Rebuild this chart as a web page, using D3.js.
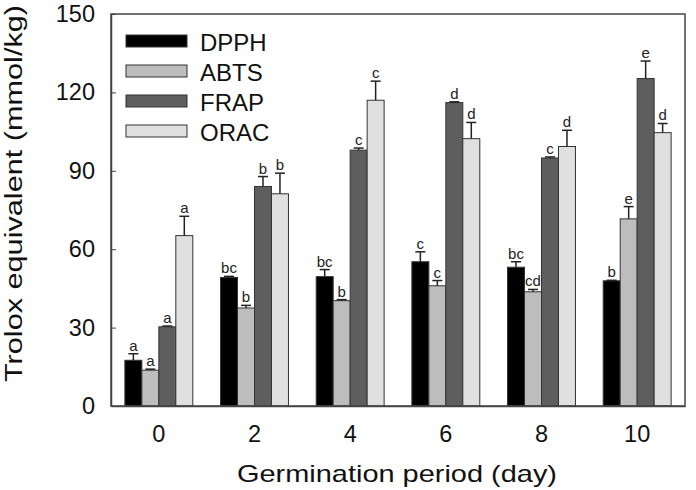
<!DOCTYPE html>
<html>
<head>
<meta charset="utf-8">
<script src="https://cdn.jsdelivr.net/npm/d3@7"></script>
<style>
  body { margin: 0; background: #fff; }
  text { font-family: Arial, "Liberation Sans", sans-serif; }
</style>
</head>
<body>
<svg id="chart" width="696" height="490"></svg>
<script>
// germination days and assays
var days = ['0', '2', '4', '6', '8', '10'];
var assays = ['DPPH', 'ABTS', 'FRAP', 'ORAC'];
var assay_colors = ['#000000', '#bdbdbd', '#5e5e5e', '#e0e0e0'];

// means per assay, one value per day
var dpph = [17.5, 49.2, 49.5, 55.2, 53.1, 47.9];
var abts = [13.7, 37.5, 40.3, 46.0, 43.7, 71.6];
var frap = [30.3, 84.0, 97.9, 116.1, 94.9, 125.3];
var orac = [65.2, 81.2, 117.0, 102.3, 99.3, 104.6];

// error bars (upper half only)
var dpph_err = [2.5, 0.4, 2.7, 3.8, 2.1, 0.2];
var abts_err = [0.4, 1.0, 0.4, 2.0, 0.9, 4.7];
var frap_err = [0.3, 3.8, 0.8, 0.3, 0.4, 6.7];
var orac_err = [7.4, 7.9, 7.3, 6.2, 6.2, 3.5];

// significance letters
var dpph_sig = ['a', 'bc', 'bc', 'c', 'bc', 'b'];
var abts_sig = ['a', 'b', 'b', 'c', 'cd', 'e'];
var frap_sig = ['a', 'b', 'c', 'd', 'c', 'e'];
var orac_sig = ['a', 'b', 'c', 'd', 'd', 'd'];

var y_ticks = [0, 30, 60, 90, 120, 150];

var values = [dpph, abts, frap, orac];
var errors = [dpph_err, abts_err, frap_err, orac_err];
var letters = [dpph_sig, abts_sig, frap_sig, orac_sig];

var margin = {top: 14, right: 11, bottom: 84, left: 111};
var width = 696 - margin.left - margin.right;
var height = 490 - margin.top - margin.bottom;
var font = 'Arial, "Liberation Sans", sans-serif';

var svg = d3.select('#chart');
var g = svg.append('g')
           .attr('transform', 'translate(' + margin.left + ',' + margin.top + ')');

var x = d3.scaleBand().domain(days).range([0, width]).paddingInner(0.29).paddingOuter(0.145);
var x_inner = d3.scaleBand().domain(assays).range([0, x.bandwidth()]);
var y = d3.scaleLinear().domain([0, 150]).range([height, 0]);

var data = [];
days.forEach((d, i) => {
  assays.forEach((a, j) => {
    data.push({day: d, assay: a, idx: j, value: values[j][i], err: errors[j][i], sig: letters[j][i]});
  });
});

var bar_x = d => x(d.day) + x_inner(d.assay);
var cx = d => bar_x(d) + x_inner.bandwidth() / 2;

// bars
g.append('g')
 .selectAll('rect')
 .data(data)
 .enter()
 .append('rect')
 .attr('x', bar_x)
 .attr('y', d => y(d.value))
 .attr('width', x_inner.bandwidth())
 .attr('height', d => height - y(d.value))
 .attr('fill', d => assay_colors[d.idx])
 .attr('stroke', '#333')
 .attr('stroke-width', 1);

// error bars
var err_g = g.append('g').attr('stroke', '#222').attr('stroke-width', 1.5);

err_g.selectAll('line.v')
     .data(data)
     .enter()
     .append('line')
     .attr('class', 'v')
     .attr('x1', cx).attr('x2', cx)
     .attr('y1', d => y(d.value))
     .attr('y2', d => y(d.value + d.err));

err_g.selectAll('line.cap')
     .data(data)
     .enter()
     .append('line')
     .attr('class', 'cap')
     .attr('x1', d => cx(d) - 5).attr('x2', d => cx(d) + 5)
     .attr('y1', d => y(d.value + d.err))
     .attr('y2', d => y(d.value + d.err));

// letters
g.append('g')
 .selectAll('text')
 .data(data)
 .enter()
 .append('text')
 .attr('x', cx)
 .attr('y', d => y(d.value + d.err) - 3)
 .attr('text-anchor', 'middle')
 .attr('font-size', 15)
 .attr('fill', '#222')
 .text(d => d.sig);

// frame
g.append('rect')
 .attr('x', 0).attr('y', 0)
 .attr('width', width).attr('height', height)
 .attr('fill', 'none')
 .attr('stroke', '#444')
 .attr('stroke-width', 1.5);

// y axis
var y_axis = g.append('g')
              .call(d3.axisLeft(y).tickValues(y_ticks).tickSizeInner(-5).tickSizeOuter(0).tickPadding(16));
y_axis.select('.domain').attr('stroke', '#444').attr('stroke-width', 1.5);
y_axis.selectAll('line').attr('stroke', '#444');
y_axis.selectAll('text').attr('font-size', 23.5).attr('fill', '#111').attr('font-family', font);

// x axis
var x_axis = g.append('g')
              .attr('transform', 'translate(0,' + height + ')')
              .call(d3.axisBottom(x).tickSize(0).tickPadding(19));
x_axis.select('.domain').attr('stroke', '#444').attr('stroke-width', 1.5);
x_axis.selectAll('text').attr('font-size', 23.5).attr('fill', '#111').attr('font-family', font);

// axis titles
svg.append('text')
   .attr('x', 237)
   .attr('y', 482)
   .attr('font-size', 24)
   .attr('fill', '#111')
   .attr('textLength', 320)
   .attr('lengthAdjust', 'spacingAndGlyphs')
   .text('Germination period (day)');

svg.append('text')
   .attr('transform', 'translate(22,382) rotate(-90)')
   .attr('font-size', 23.5)
   .attr('fill', '#111')
   .attr('textLength', 377)
   .attr('lengthAdjust', 'spacingAndGlyphs')
   .text('Trolox equivalent (mmol/kg)');

// legend
var legend = g.append('g').attr('transform', 'translate(15,21)');
assays.forEach((a, i) => {
  var row = legend.append('g').attr('transform', 'translate(0,' + (i * 30) + ')');
  row.append('rect')
     .attr('x', 0).attr('y', 0)
     .attr('width', 61).attr('height', 12)
     .attr('fill', assay_colors[i])
     .attr('stroke', '#333')
     .attr('stroke-width', 1);
  row.append('text')
     .attr('x', 74).attr('y', 16)
     .attr('font-size', 24)
     .attr('fill', '#111')
     .text(a);
});
</script>
</body>
</html>
